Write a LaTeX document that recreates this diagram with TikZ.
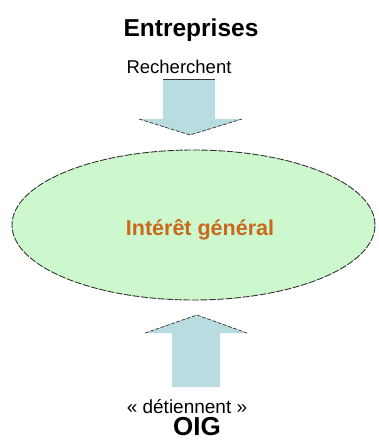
\documentclass[tikz,border=0pt]{standalone}
\usepackage{fontspec}
\usetikzlibrary{shapes.geometric}
\setmainfont{Liberation Sans}
\definecolor{arrowfill}{HTML}{B8DCDF}
\definecolor{ellfill}{HTML}{CDF7CD}
\definecolor{orangetxt}{HTML}{C8691E}
\definecolor{edge}{HTML}{333333}
\tikzset{
  arrowshape/.style={fill=arrowfill, draw=none},
  headedge/.style={draw=edge, dashed, dash pattern=on 4pt off 1.5pt, line width=0.7pt},
  label/.style={inner sep=0pt, text=black},
}
\begin{document}
\begin{tikzpicture}[x=1pt,y=-1pt]
\useasboundingbox (0,0) rectangle (379,447);
% ellipse
\node[ellipse, minimum width=363pt, minimum height=150pt, inner sep=0pt, fill=ellfill, draw=edge, dashed, dash pattern=on 7pt off 1.5pt, line width=0.9pt] (ig) at (193.5,225) {};
\node[label, text=orangetxt, font=\fontsize{21.5}{24}\selectfont\bfseries] (igt) at (200,230) {Intérêt général};
% top arrow
\coordinate (ta1) at (163,79);
\coordinate (ta2) at (215,79);
\coordinate (ta3) at (215,119);
\coordinate (ta4) at (242,119);
\coordinate (tatip) at (190,135);
\coordinate (ta6) at (139,119);
\coordinate (ta7) at (163,119);
\fill[arrowshape] (ta1) -- (ta2) -- (ta3) -- (ta4) -- (tatip) -- (ta6) -- (ta7) -- cycle;
\draw[draw=edge, line width=0.8pt] (ta1) -- (ta2);
\draw[headedge] (ta6) -- (tatip) -- (ta4);
% bottom arrow
\coordinate (ba1) at (172,387);
\coordinate (ba2) at (220,387);
\coordinate (ba3) at (220,333);
\coordinate (ba4) at (247,333);
\coordinate (batip) at (197,315);
\coordinate (ba6) at (145,333);
\coordinate (ba7) at (172,333);
\fill[arrowshape] (ba1) -- (ba2) -- (ba3) -- (ba4) -- (batip) -- (ba6) -- (ba7) -- cycle;
\draw[headedge] (ba6) -- (batip) -- (ba4);
% texts
\node[label, font=\fontsize{24.5}{28}\selectfont\bfseries] (ent) at (191,30) {Entreprises};
\node[label, font=\fontsize{18.5}{22}\selectfont] (rech) at (179,67) {Recherchent};
\node[label, font=\fontsize{19}{22}\selectfont] (det) at (187,407) {« détiennent »};
\node[label, font=\fontsize{26}{30}\selectfont\bfseries] (oig) at (197,427) {OIG};
\end{tikzpicture}
\end{document}
